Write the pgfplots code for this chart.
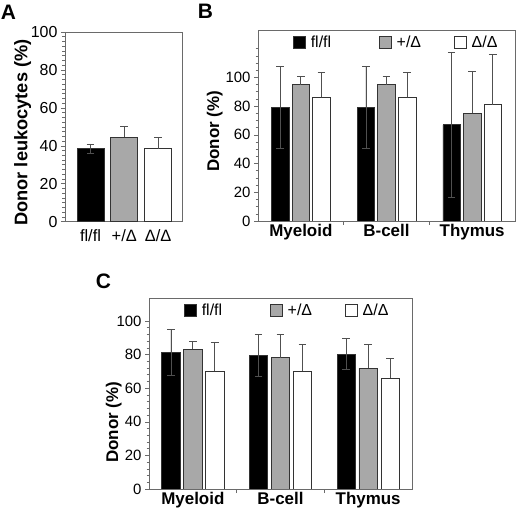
\documentclass[border=0pt]{standalone}
\usepackage{fontspec}
\setmainfont{Liberation Sans}
\usepackage{pgfplots}
\pgfplotsset{compat=1.18}

\definecolor{barg}{HTML}{A8A8A8}
\definecolor{frame}{HTML}{6A6A6A}
\definecolor{errc}{HTML}{505050}

\pgfplotsset{
  panel/.style={
    scale only axis,
    ybar, ymin=0,
    axis line style={draw=frame, line width=0.8bp},
    ytick pos=left, xtick pos=bottom,
    tick align=outside,
    major tick length=4bp, minor tick length=2.5bp,
    tick style={draw=frame, line width=0.6bp},
    /pgf/number format/assume math mode=true,
    yticklabel style={font=\fontsize{15}{15}\selectfont},
    xticklabel style={font=\bfseries\fontsize{17}{17}\selectfont},
    ylabel style={font=\bfseries\fontsize{17}{17}\selectfont},
    ytick={0,20,...,100},
  },
  groups/.style={
    xmin=-0.5, xmax=2.5,
    xtick={0.5,1.5}, xticklabels={},
    extra x ticks={0,1,2},
    extra x tick labels={Myeloid,B-cell,Thymus},
    extra x tick style={major tick length=0pt},
    legend style={at={(0,1)}, anchor=west, xshift=35bp, yshift=-12bp,
      draw=none, fill=none, inner sep=0pt, legend columns=3,
      font=\fontsize{16}{16}\selectfont, column sep=3bp,
      /tikz/column 2/.append style={column sep=46bp},
      /tikz/column 4/.append style={column sep=31bp}},
  },
  barstyle/.style={
    draw=black!80, line width=0.6bp,
    legend image code/.code={\draw[##1, draw=black!80, line width=0.6bp] (0bp,-6bp) rectangle (12bp,6bp);},
    /pgfplots/error bars/y explicit,
    /pgfplots/error bars/error bar style={draw=errc, line width=0.8bp},
    /pgfplots/error bars/error mark options={rotate=90, mark size=3.8bp, draw=errc, line width=0.8bp},
  },
}

\begin{document}
\begin{tikzpicture}
\useasboundingbox (0,0) rectangle (520bp,515bp);

% panel A
\begin{axis}[panel,
  at={(65bp,293.3bp)}, anchor=south west,
  width=117bp, height=189.7bp,
  ymax=100, minor y tick num=7,
  yticklabel style={font=\fontsize{16}{16}\selectfont},
  xmin=-0.756, xmax=2.71,
  xtick={0,1,2}, xticklabels={fl/fl,+/Δ,Δ/Δ},
  xticklabel style={font=\fontsize{16.5}{16.5}\selectfont},
  major x tick style={draw=none},
  ylabel={Donor leukocytes (\%)},
  ylabel style={font=\bfseries\fontsize{18.3}{18.3}\selectfont, at={(ticklabel cs:0.47,-7bp)}},
]
\addplot[barstyle, fill=black, bar width=0.8, bar shift=0, error bars/y dir=both]
  coordinates {(0,38.5) +- (0,2.5)};
\addplot[barstyle, fill=barg, bar width=0.8, bar shift=0, error bars/y dir=plus]
  coordinates {(1,44.7) +- (0,5.7)};
\addplot[barstyle, fill=white, bar width=0.8, bar shift=0, error bars/y dir=plus]
  coordinates {(2,38.5) +- (0,5.8)};
\end{axis}

% panel B
\begin{axis}[panel, groups,
  at={(258bp,294bp)}, anchor=south west,
  width=257bp, height=191bp,
  ymax=133, minor ytick={0,5,...,120},
  ylabel={Donor (\%)},
  ylabel style={at={(ticklabel cs:0.47,-4bp)}},
]
\addplot[barstyle, fill=black, bar width=0.205, bar shift=-0.24, error bars/y dir=both]
  coordinates {(0,79) +- (0,28.5) (1,79) +- (0,28.5) (2,67) +- (0,50.5)};
\addlegendentry{fl/fl}
\addplot[barstyle, fill=barg, bar width=0.205, bar shift=0, error bars/y dir=plus]
  coordinates {(0,95) +- (0,5.7) (1,95) +- (0,5.7) (2,75) +- (0,29)};
\addlegendentry{+/Δ}
\addplot[barstyle, fill=white, bar width=0.205, bar shift=0.24, error bars/y dir=plus]
  coordinates {(0,86) +- (0,17.2) (1,86) +- (0,17.2) (2,81) +- (0,35)};
\addlegendentry{Δ/Δ}
\end{axis}

% panel C
\begin{axis}[panel, groups,
  at={(149bp,26bp)}, anchor=south west,
  width=263bp, height=191bp,
  ymax=113.7, minor y tick num=4,
  ylabel={Donor (\%)},
  ylabel style={at={(ticklabel cs:0.35,-12bp)}},
]
\addplot[barstyle, fill=black, bar width=0.21, bar shift=-0.25, error bars/y dir=both]
  coordinates {(0,81.3) +- (0,13.5) (1,79.4) +- (0,12.4) (2,80.2) +- (0,9.3)};
\addlegendentry{fl/fl}
\addplot[barstyle, fill=barg, bar width=0.21, bar shift=0, error bars/y dir=plus]
  coordinates {(0,83.3) +- (0,4.8) (1,78.2) +- (0,13.9) (2,72) +- (0,13.9)};
\addlegendentry{+/Δ}
\addplot[barstyle, fill=white, bar width=0.21, bar shift=0.25, error bars/y dir=plus]
  coordinates {(0,70.2) +- (0,16.9) (1,70.2) +- (0,15.7) (2,66.1) +- (0,11.7)};
\addlegendentry{Δ/Δ}
\end{axis}

% panel letters
\node[font=\bfseries\fontsize{21}{21}\selectfont] at (8.5bp,502.5bp) {A};
\node[font=\bfseries\fontsize{21}{21}\selectfont] at (205.5bp,503.5bp) {B};
\node[font=\bfseries\fontsize{21}{21}\selectfont] at (103.5bp,233.5bp) {C};
\end{tikzpicture}
\end{document}
